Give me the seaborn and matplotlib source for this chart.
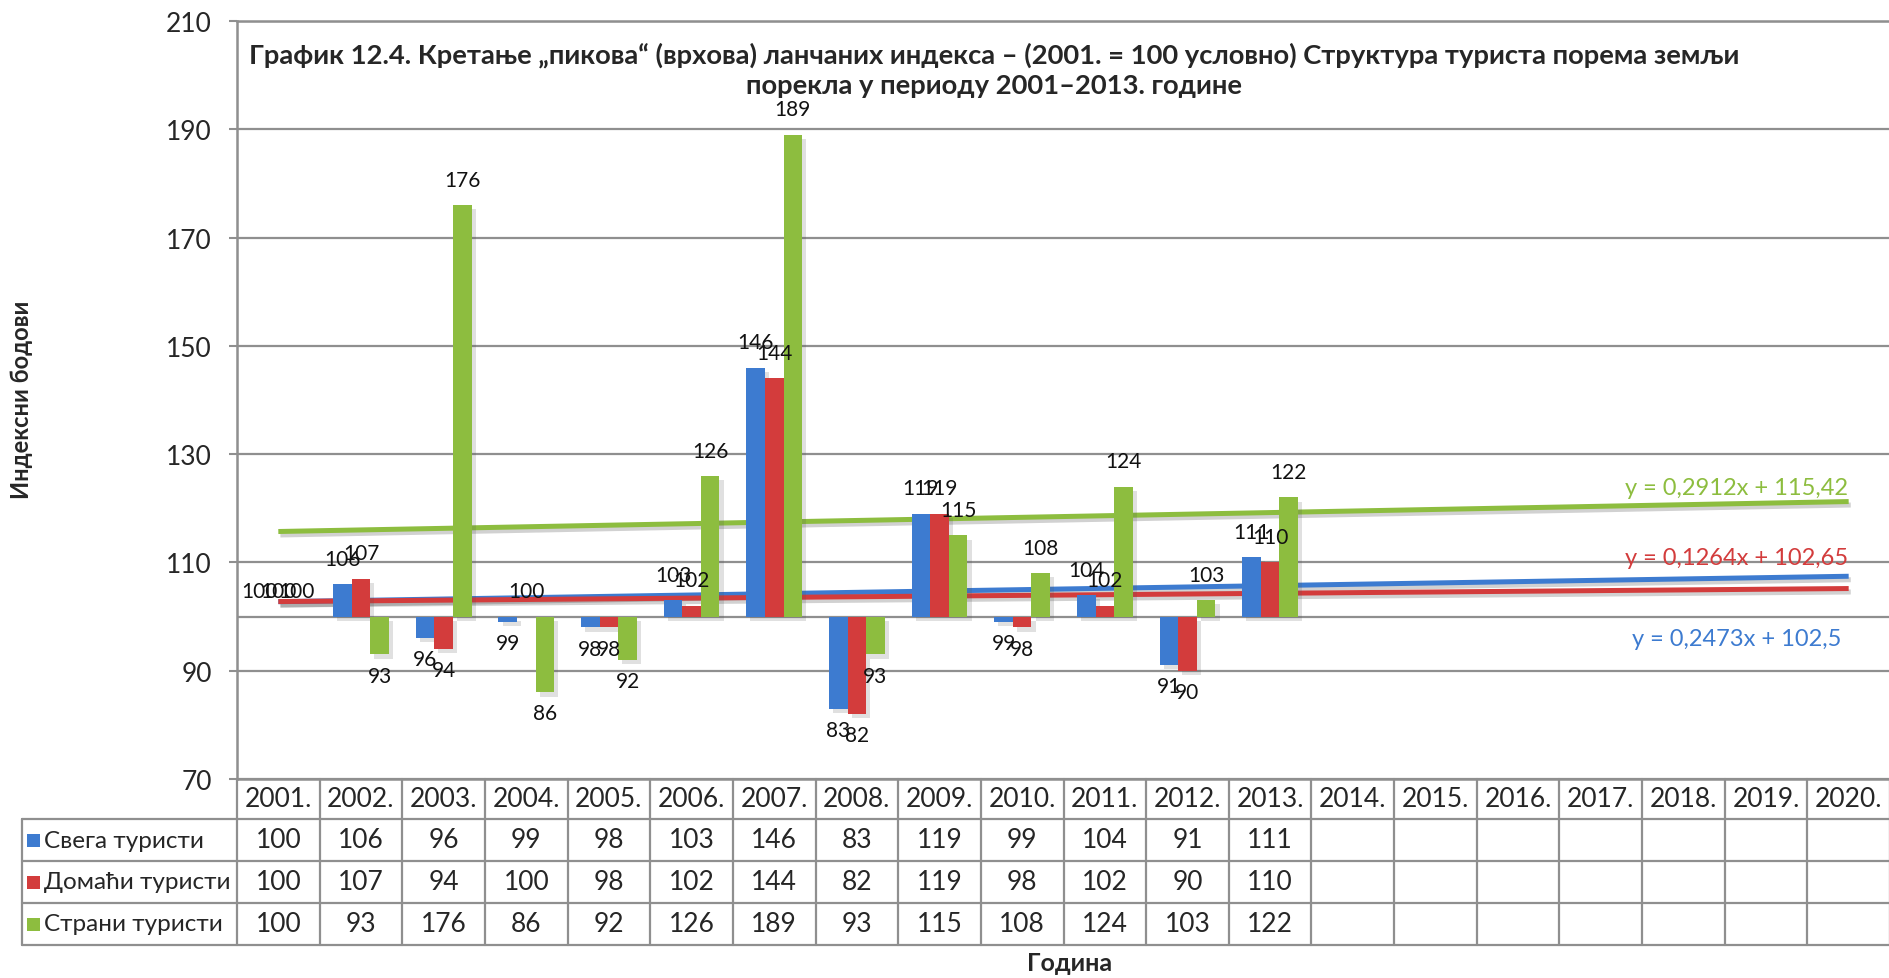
import numpy as np
import pandas as pd
import matplotlib
matplotlib.use("Agg")
import matplotlib.pyplot as plt
import matplotlib.transforms as mtransforms
import matplotlib.patheffects as pe
from matplotlib.lines import Line2D
from matplotlib.patches import Rectangle
from matplotlib import font_manager
import seaborn as sns

# ---- data -------------------------------------------------------------
years = ["2001.", "2002.", "2003.", "2004.", "2005.", "2006.", "2007.",
         "2008.", "2009.", "2010.", "2011.", "2012.", "2013.", "2014.",
         "2015.", "2016.", "2017.", "2018.", "2019.", "2020."]
total_tourists = [100, 106, 96, 99, 98, 103, 146, 83, 119, 99, 104, 91, 111]
domestic_tourists = [100, 107, 94, 100, 98, 102, 144, 82, 119, 98, 102, 90, 110]
foreign_tourists = [100, 93, 176, 86, 92, 126, 189, 93, 115, 108, 124, 103, 122]
series_names = ["Свега туристи", "Домаћи туристи", "Страни туристи"]
series_colors = ["#3d7bd0", "#d33c3c", "#8dbd3f"]
trend_slopes = [0.2473, 0.1264, 0.2912]
trend_intercepts = [102.5, 102.65, 115.42]
trend_labels = ["y = 0,2473x + 102,5", "y = 0,1264x + 102,65", "y = 0,2912x + 115,42"]
base_index = 100
y_ticks = [70, 90, 110, 130, 150, 170, 190, 210]

title = ("График 12.4. Кретање „пикова“ (врхова) ланчаних индекса – (2001. = 100 условно) "
         "Структура туриста порема земљи\nпорекла у периоду 2001–2013. године")
y_title = "Индексни бодови"
x_title = "Година"

# ---- fonts ------------------------------------------------------------
available = {f.name for f in font_manager.fontManager.ttflist}
narrow = next((f for f in ["Liberation Sans Narrow", "Lato", "Liberation Sans"] if f in available), "DejaVu Sans")
wide_bold = next((f for f in ["Lato", "Open Sans", "Noto Sans"] if f in available), "DejaVu Sans")

sns.set_theme(style="white")
plt.rcParams["font.family"] = [narrow, "DejaVu Sans"]

W, H = 1890, 979
fig = plt.figure(figsize=(W / 100, H / 100), dpi=100)
ax = fig.add_axes([237 / W, 1 - 780 / H, (W - 237) / W, (780 - 22) / H])

GRID = "#8f8f8f"

# ---- long table for seaborn ------------------------------------------
series_values = [total_tourists, domestic_tourists, foreign_tourists]
rows = []
for name, vals in zip(series_names, series_values):
    for yr, v in zip(years, vals):
        rows.append({"year": yr, "series": name, "value": v, "delta": v - base_index})
df = pd.DataFrame(rows)

sns.barplot(data=df, x="year", y="delta", hue="series", order=years,
            hue_order=series_names, palette=series_colors, saturation=1,
            width=0.675, gap=0, bottom=base_index, errorbar=None,
            legend=False, linewidth=0, zorder=2, ax=ax)

for patch in ax.patches:
    patch.set_path_effects([pe.SimplePatchShadow(offset=(3, -3), alpha=0.18, shadow_rgbFace="#555555"), pe.Normal()])

# value labels at the end of each bar: above rising bars, below falling ones
for container, vals in zip(ax.containers, series_values):
    up = [str(v) if v >= base_index else "" for v in vals]
    down = [str(v) if v < base_index else "" for v in vals]
    ax.bar_label(container, labels=up, padding=11, fontsize=15, color="#111111", zorder=5)
    ax.bar_label(container, labels=down, padding=8, fontsize=15, color="#111111", zorder=5)

# linear trend lines over the whole period (drawn behind the bars)
xi = np.arange(len(years))
for slope, icpt, color in zip(trend_slopes, trend_intercepts, series_colors):
    ax.plot(xi, slope * (xi + 1) + icpt, color=color, lw=3.6, solid_capstyle="butt",
            path_effects=[pe.SimpleLineShadow(offset=(1.5, -2.5), alpha=0.2), pe.Normal()],
            zorder=1.5)

trend_label_pos = [(17.64, 96.0), (17.64, 110.9), (17.64, 123.9)]
for (tx, ty), lbl, color in zip(trend_label_pos, trend_labels, series_colors):
    ax.text(tx, ty, lbl, color=color, fontsize=17, ha="center", va="center", zorder=5)

# axes styling
ax.set_ylim(y_ticks[0], y_ticks[-1])
ax.set_xlim(-0.5, len(years) - 0.5)
ax.set_yticks(y_ticks)
ax.set_yticklabels([str(t) for t in y_ticks], fontsize=19)
ax.set_xticks([])
ax.set_xlabel("")
ax.set_ylabel("")
ax.yaxis.grid(True, color=GRID, lw=1.6)
ax.set_axisbelow(True)
ax.axhline(base_index, color=GRID, lw=1.6, zorder=0.5)
ax.tick_params(axis="y", direction="out", length=6, width=1.5, color=GRID, pad=12, left=True)
for side in ["left", "top", "bottom"]:
    ax.spines[side].set_color(GRID)
    ax.spines[side].set_linewidth(1.8)
ax.spines["right"].set_visible(False)

# ---- data table beneath the plot -------------------------------------
def fy(py):
    return 1 - py / H

tr = mtransforms.blended_transform_factory(ax.transData, fig.transFigure)
row_lines = [820, 862, 904, 946]
for i in range(len(years) + 1):
    fig.add_artist(Line2D([i - 0.5, i - 0.5], [fy(780), fy(946)], transform=tr,
                          color=GRID, lw=1.6))
fig.add_artist(Line2D([22 / W, 22 / W], [fy(820), fy(946)], transform=fig.transFigure,
                      color=GRID, lw=1.6))
for py in row_lines:
    fig.add_artist(Line2D([22 / W, 1], [fy(py), fy(py)], transform=fig.transFigure,
                          color=GRID, lw=1.6))

for i, yr in enumerate(years):
    fig.text(i, fy(800), yr, transform=tr, ha="center", va="center", fontsize=19)

row_centers = [841, 883, 925]
for rc, name, vals, color in zip(row_centers, series_names, series_values, series_colors):
    for i, v in enumerate(vals):
        fig.text(i, fy(rc), str(v), transform=tr, ha="center", va="center", fontsize=19)
    fig.add_artist(Rectangle((27 / W, fy(rc + 7)), 13 / W, 13 / H, transform=fig.transFigure,
                             facecolor=color, edgecolor="none"))
    fig.text(44 / W, fy(rc), name, ha="left", va="center", fontsize=17.5)

# ---- titles ----------------------------------------------------------
fig.text(994 / W, fy(70), title, ha="center", va="center", fontsize=19.7,
         fontweight="bold", linespacing=1.3, multialignment="center")
fig.text(22 / W, fy(400), y_title, rotation=90, ha="center", va="center",
         fontsize=17, fontweight="bold", family=[wide_bold, "DejaVu Sans"])
fig.text(1070 / W, fy(964), x_title, ha="center", va="center", fontsize=18,
         fontweight="bold")

fig.savefig("out.png", dpi=100, facecolor="white")
